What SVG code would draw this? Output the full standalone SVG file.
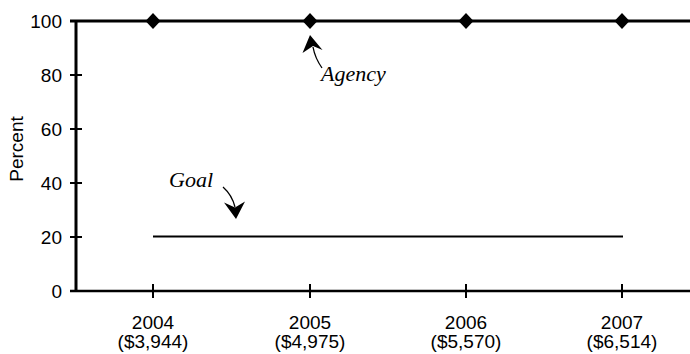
<svg xmlns="http://www.w3.org/2000/svg" width="690" height="354" viewBox="0 0 690 354">
<style>
.ax{stroke:#000;stroke-width:3;fill:none}
.tk{stroke:#000;stroke-width:2;fill:none}
.lbl{font-family:"Liberation Sans",Arial,sans-serif;font-size:19px;fill:#000}
.it{font-family:"Liberation Serif","Times New Roman",serif;font-style:italic;font-size:22px;fill:#000}
.dm{fill:#000}
.cv{fill:none;stroke:#000;stroke-width:1.3}
</style>
<rect width="690" height="354" fill="#fff"/>
<g id="axes">
<line class="ax" x1="76" y1="20" x2="76" y2="292"/>
<line x1="70" y1="291" x2="690" y2="291" stroke="#000" stroke-width="2.5"/>
<line class="ax" x1="70" y1="21" x2="690" y2="21"/>
<g class="tk">
<line x1="70" y1="75" x2="82" y2="75"/>
<line x1="70" y1="129" x2="82" y2="129"/>
<line x1="70" y1="183" x2="82" y2="183"/>
<line x1="70" y1="237" x2="82" y2="237"/>
<line x1="153" y1="284" x2="153" y2="298"/>
<line x1="310" y1="284" x2="310" y2="298"/>
<line x1="466" y1="284" x2="466" y2="298"/>
<line x1="622" y1="284" x2="622" y2="298"/>
</g>
<g class="lbl" text-anchor="end">
<text x="62" y="28">100</text>
<text x="62" y="82">80</text>
<text x="62" y="136">60</text>
<text x="62" y="190">40</text>
<text x="62" y="244">20</text>
<text x="62" y="298">0</text>
</g>
<text class="lbl" transform="translate(23,149) rotate(-90)" text-anchor="middle">Percent</text>
<g class="lbl" text-anchor="middle">
<text x="153" y="329">2004</text><text x="153" y="348">($3,944)</text>
<text x="310" y="329">2005</text><text x="310" y="348">($4,975)</text>
<text x="466" y="329">2006</text><text x="466" y="348">($5,570)</text>
<text x="622" y="329">2007</text><text x="622" y="348">($6,514)</text>
</g>
</g>
<g id="agency">
<path class="dm" d="M153,13 L160.5,21 L153,29 L145.5,21 Z"/>
<path class="dm" d="M310,13 L317.5,21 L310,29 L302.5,21 Z"/>
<path class="dm" d="M466,13 L473.5,21 L466,29 L458.5,21 Z"/>
<path class="dm" d="M622,13 L629.5,21 L622,29 L614.5,21 Z"/>
<text class="it" x="321" y="81">Agency</text>
</g>
<g id="goal">
<line x1="153" y1="236.5" x2="623" y2="236.5" stroke="#000" stroke-width="2"/>
<text class="it" x="169" y="187">Goal</text>
</g>
<g id="connectors">
<path class="cv" d="M322,68 Q315,58 313,47"/>
<path class="dm" d="M310,35 L322.5,50 L313,46 L302.5,53 Z"/>
<path class="cv" d="M223,187 Q232,195 235,207"/>
<path class="dm" d="M236,219 L224,202.5 L235,207.5 L245,201.5 Z"/>
</g>
</svg>
